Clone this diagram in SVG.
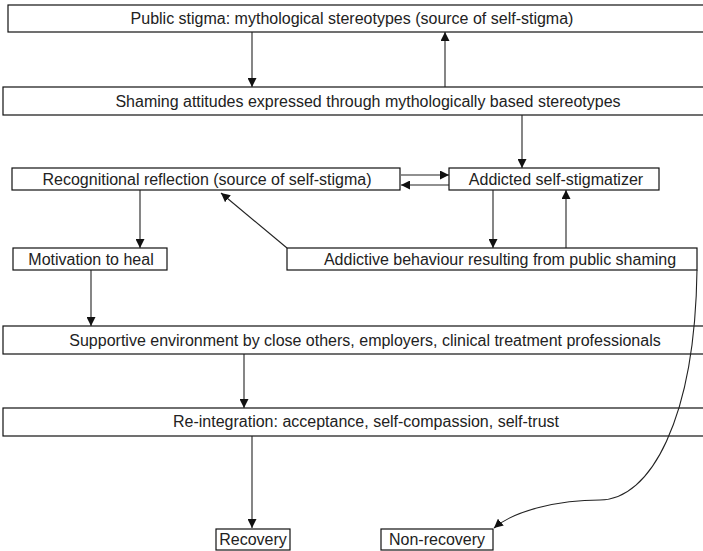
<svg xmlns="http://www.w3.org/2000/svg" width="703" height="551" viewBox="0 0 703 551">
<defs>
<marker id="ah" viewBox="0 0 10 10" refX="10" refY="5" markerWidth="9" markerHeight="9" markerUnits="userSpaceOnUse" orient="auto">
<path d="M0,0 L10,5 L0,10 Z" fill="#111"/>
</marker>
</defs>
<style>
.box{fill:#fff;stroke:#111;stroke-width:1.2}
.t{font-family:"Liberation Sans",Arial,sans-serif;font-size:16px;fill:#222;text-anchor:middle}
.c{fill:none;stroke:#222;stroke-width:1.1}
.a{marker-end:url(#ah)}
</style>
<rect width="703" height="551" fill="#fff"/>
<g id="n1"><rect class="box" x="8" y="5" width="700" height="27"/><text class="t" x="352" y="24" font-size="15.2">Public stigma: mythological stereotypes (source of self-stigma)</text></g>
<g id="n2"><rect class="box" x="3" y="87" width="705" height="28"/><text class="t" x="368" y="107" font-size="16.5">Shaming attitudes expressed through mythologically based stereotypes</text></g>
<g id="n3"><rect class="box" x="12" y="168" width="388" height="22"/><text class="t" x="207" y="185" font-size="16">Recognitional reflection (source of self-stigma)</text></g>
<g id="n4"><rect class="box" x="449" y="168" width="210" height="22"/><text class="t" x="556" y="185" font-size="16.3">Addicted self-stigmatizer</text></g>
<g id="n5"><rect class="box" x="13" y="248" width="154" height="22"/><text class="t" x="91" y="265" font-size="16.3">Motivation to heal</text></g>
<g id="n6"><rect class="box" x="287" y="248" width="410" height="22"/><text class="t" x="500" y="265" font-size="16.6">Addictive behaviour resulting from public shaming</text></g>
<g id="n7"><rect class="box" x="3" y="326" width="705" height="28"/><text class="t" x="365" y="346" font-size="16.9">Supportive environment by close others, employers, clinical treatment professionals</text></g>
<g id="n8"><rect class="box" x="3" y="408" width="705" height="28"/><text class="t" x="366" y="427" font-size="14.9">Re-integration: acceptance, self-compassion, self-trust</text></g>
<g id="n9"><rect class="box" x="216" y="529" width="74" height="21"/><text class="t" x="253" y="545" font-size="16">Recovery</text></g>
<g id="n10"><rect class="box" x="381" y="529" width="112" height="21"/><text class="t" x="437" y="545" font-size="16">Non-recovery</text></g>
<g id="connectors">
<line class="c a" x1="252" y1="32" x2="252" y2="87"/>
<line class="c a" x1="445" y1="87" x2="445" y2="32"/>
<line class="c a" x1="522" y1="115" x2="522" y2="168"/>
<line class="c a" x1="401" y1="175" x2="449" y2="175"/>
<line class="c a" x1="449" y1="185" x2="401" y2="185"/>
<line class="c a" x1="140" y1="190" x2="140" y2="248"/>
<line class="c a" x1="287" y1="248" x2="221" y2="193"/>
<line class="c a" x1="493" y1="190" x2="493" y2="248"/>
<line class="c a" x1="566" y1="248" x2="566" y2="190"/>
<line class="c a" x1="91" y1="270" x2="91" y2="326"/>
<line class="c a" x1="244" y1="354" x2="244" y2="408"/>
<line class="c a" x1="252" y1="436" x2="252" y2="528"/>
<path class="c a" d="M697,270 C695,420 650,500 600,500 C560,500 515,510 494,528"/>
</g>
</svg>
